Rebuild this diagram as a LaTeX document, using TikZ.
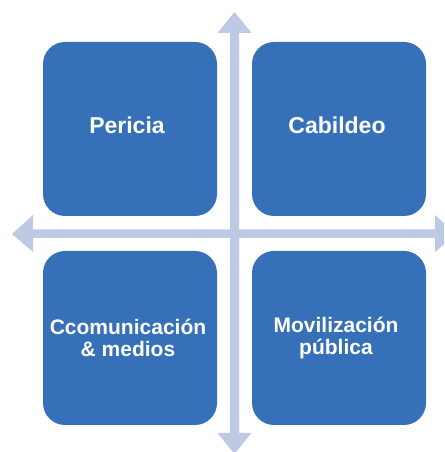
\documentclass[tikz,border=0pt]{standalone}
\usepackage{fontspec}
\setmainfont{Liberation Sans}
\definecolor{boxblue}{RGB}{54,112,184}
\definecolor{arrowblue}{RGB}{190,201,227}
\begin{document}
\begin{tikzpicture}[x=1pt,y=1pt,
  quad/.style={fill=boxblue, rounded corners=22pt, minimum width=174pt, minimum height=174pt, inner sep=0pt, draw=none},
  lbl/.style={text=white, font=\bfseries\fontsize{23}{24}\selectfont, align=center},
  lblsmall/.style={text=white, font=\bfseries\fontsize{21}{22}\selectfont, align=center},
  arr/.style={fill=arrowblue, draw=none}]
\useasboundingbox (0,0) rectangle (444,452);
\clip (0,0) rectangle (444,452);
% boxes (image y flipped: y = 452 - y_img)
\node[quad] (pericia) at (130,323) {};
\node[quad] (cabildeo) at (339,323) {};
\node[quad] (comunic) at (130,114) {};
\node[quad] (moviliz) at (339,114) {};
% arrows
\coordinate (c) at (234.5,218);
\fill[arr] (230,19) -- (230,419) -- (217.5,419) -- (234.5,440) -- (251.5,419) -- (239,419) -- (239,19) -- (251.5,19) -- (234.5,-2) -- (217.5,19) -- cycle;
\fill[arr] (33,214) -- (435,214) -- (435,200) -- (456,218) -- (435,237) -- (435,222.5) -- (33,222.5) -- (33,237) -- (12,218) -- (33,200) -- cycle;
% labels
\node[lbl] (t1) at (127,327) {Pericia};
\node[lbl] (t2) at (337,327) {Cabildeo};
\node[lblsmall] (t3) at (128,114) {Ccomunicación\\\& medios};
\node[lblsmall] (t4) at (336,114) {Movilización\\pública};
\end{tikzpicture}
\end{document}
